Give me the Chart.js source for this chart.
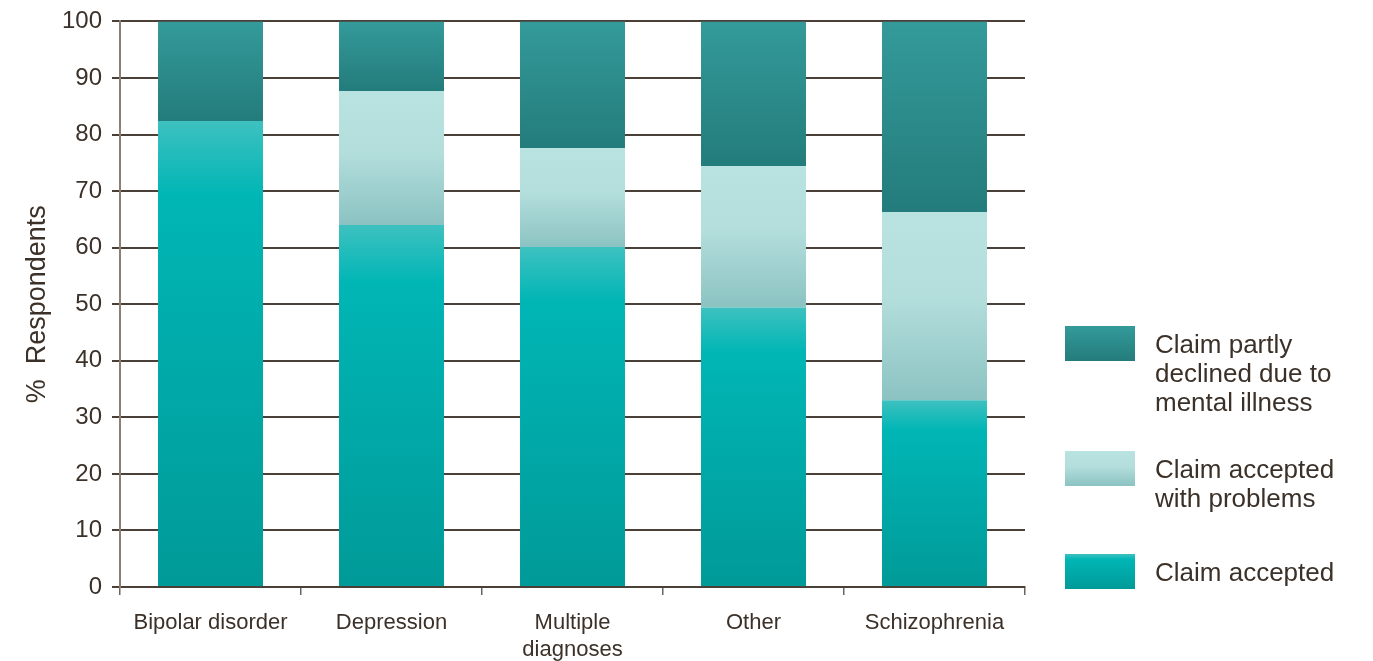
<!DOCTYPE html>
<html>
<head>
<meta charset="utf-8">
<script src="https://cdn.jsdelivr.net/npm/chart.js@4/dist/chart.umd.min.js"></script>
<style>
  html, body { margin: 0; padding: 0; background: #fff; }
  #wrap { width: 1373px; height: 661px; position: relative; }
</style>
</head>
<body>
<div id="wrap"><canvas id="chart"></canvas></div>
<script>
const categories = ["Bipolar disorder", "Depression", ["Multiple", "diagnoses"], "Other", "Schizophrenia"];
const claimAccepted = [82.4, 64.0, 60.1, 49.4, 33.0];
const acceptedWithProblems = [0, 23.7, 17.5, 25.0, 33.3];
const partlyDeclined = [17.6, 12.3, 22.4, 25.6, 33.7];
const yTicks = [0, 10, 20, 30, 40, 50, 60, 70, 80, 90, 100];

const textColor = "#3b3128";
const fontFamily = "'Liberation Sans', Arial, sans-serif";

const stopsAccepted = [[0, "#3dc1c0"], [0.16, "#00b6b5"], [1, "#009a98"]];
const stopsProblems = [[0, "#b9e3e1"], [0.45, "#b3dedc"], [1, "#8bc3c2"]];
const stopsDeclined = [[0, "#349a9a"], [1, "#237c7b"]];

let segGradient = (stops) => {
    return (c) => {
        let chart = c.chart;
        let y = chart.scales && chart.scales.y;
        if (!chart.chartArea || !y || c.type !== "data") return stops[1][1];
        let i = c.dataIndex, d = c.datasetIndex;
        let base = 0;
        for (let k = 0; k < d; k++) base += chart.data.datasets[k].data[i];
        let top = base + chart.data.datasets[d].data[i];
        let y0 = y.getPixelForValue(top), y1 = y.getPixelForValue(base);
        if (y1 - y0 < 1) return stops[1][1];
        let g = chart.ctx.createLinearGradient(0, y0, 0, y1);
        stops.forEach(([o, col]) => g.addColorStop(o, col));
        return g;
    };
};

// legend drawn by hand: multi-line labels, top item first
const legendItems = [
    { lines: ["Claim partly", "declined due to", "mental illness"], stops: stopsDeclined, up: 261 },
    { lines: ["Claim accepted", "with problems"], stops: stopsProblems, up: 136 },
    { lines: ["Claim accepted"], stops: stopsAccepted, up: 33 }
];

const sideLegend = {
    id: "sideLegend",
    afterDraw(chart) {
        let ctx = chart.ctx;
        let x = chart.chartArea.right + 40;
        ctx.save();
        ctx.font = "26px " + fontFamily;
        ctx.textBaseline = "alphabetic";
        legendItems.forEach(item => {
            let y = chart.chartArea.bottom - item.up;
            let g = ctx.createLinearGradient(0, y, 0, y + 35);
            item.stops.forEach(([o, col]) => g.addColorStop(o, col));
            ctx.fillStyle = g;
            ctx.fillRect(x, y, 70, 35);
            ctx.fillStyle = textColor;
            item.lines.forEach((t, n) => ctx.fillText(t, x + 90, y + 27 + n * 29));
        });
        ctx.restore();
    }
};

new Chart("chart", {
    type: "bar",
    data: {
        labels: categories,
        datasets: [
            { label: "Claim accepted", data: claimAccepted, backgroundColor: segGradient(stopsAccepted) },
            { label: "Claim accepted with problems", data: acceptedWithProblems, backgroundColor: segGradient(stopsProblems) },
            { label: "Claim partly declined due to mental illness", data: partlyDeclined, backgroundColor: segGradient(stopsDeclined) }
        ]
    },
    options: {
        responsive: true,
        maintainAspectRatio: false,
        animation: false,
        layout: { padding: { top: 2, right: 348, bottom: 0, left: 8 } },
        datasets: { bar: { categoryPercentage: 1, barPercentage: 0.58, borderWidth: 0 } },
        plugins: { legend: { display: false }, tooltip: { enabled: false } },
        scales: {
            x: {
                stacked: true,
                offset: true,
                afterFit: (axis) => { axis.height = 74; },
                grid: { offset: true, drawOnChartArea: false, color: "#6e645b", tickLength: 8, lineWidth: 1.5 },
                border: { color: "#4a4038", width: 2 },
                ticks: { color: textColor, font: { family: fontFamily, size: 22, lineHeight: 1.2 }, padding: 15, maxRotation: 0, autoSkip: false }
            },
            y: {
                stacked: true,
                min: 0,
                max: 100,
                afterFit: (axis) => { axis.width = 112; axis.paddingTop -= 3; },
                afterBuildTicks: (axis) => { axis.ticks = yTicks.map(v => ({ value: v })); },
                grid: { color: "#4a4038", lineWidth: 2, tickLength: 8 },
                border: { color: "#8a8078", width: 2 },
                ticks: { color: textColor, font: { family: fontFamily, size: 24 }, padding: 10 },
                title: { display: true, text: "%  Respondents", color: textColor, font: { family: fontFamily, size: 27 }, padding: { top: 13, bottom: 6 } }
            }
        }
    },
    plugins: [sideLegend]
});
</script>
</body>
</html>
